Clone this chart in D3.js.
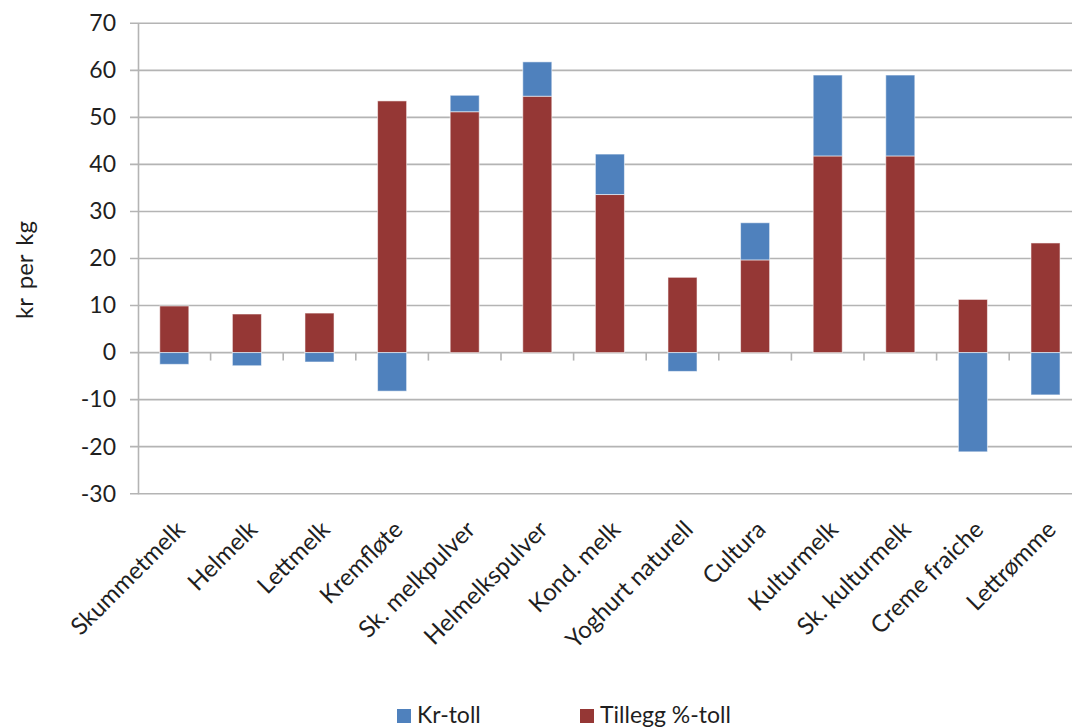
<!DOCTYPE html>
<html><head><meta charset="utf-8">
<script src="https://cdn.jsdelivr.net/npm/d3@7/dist/d3.min.js"></script>
<style>
html,body{margin:0;padding:0;background:#fff;overflow:hidden}
svg{display:block;font-family:Lato,"Open Sans",sans-serif}
</style></head>
<body><svg id="c" width="1072" height="727"></svg>
<script>
const categories = ["Skummetmelk","Helmelk","Lettmelk","Kremfløte","Sk. melkpulver","Helmelkspulver","Kond. melk","Yoghurt naturell","Cultura","Kulturmelk","Sk. kulturmelk","Creme fraiche","Lettrømme"];
const krToll = [-2.5,-2.8,-2.0,-8.2,3.5,7.3,8.6,-4.0,7.9,17.2,17.2,-21.1,-9.0];
const tilleggToll = [9.9,8.2,8.4,53.5,51.2,54.5,33.6,16.0,19.7,41.8,41.8,11.3,23.3];
const yTicks = [-30,-20,-10,0,10,20,30,40,50,60,70];
const seriesNames = ["Kr-toll","Tillegg %-toll"];
const colors = {"Kr-toll":"#4F81BD","Tillegg %-toll":"#953735"};

const svg = d3.select("#c");
const left = 138, step = 72.6;
const x = d3.scaleBand().domain(categories).range([left, left + step*categories.length]).paddingInner(0.6).paddingOuter(0.3);
const y = d3.scaleLinear().domain([-30,70]).range([493.7, 23.3]);

const rows = categories.map((c,i)=>({cat:c,"Kr-toll":krToll[i],"Tillegg %-toll":tilleggToll[i]}));
const stack = d3.stack().keys(["Tillegg %-toll","Kr-toll"]).offset(d3.stackOffsetDiverging);
const stacked = stack(rows);

// gridlines
svg.append("g").selectAll("line").data(yTicks).join("line")
  .attr("x1", left-8).attr("x2", 1080)
  .attr("y1", d=>y(d)).attr("y2", d=>y(d))
  .attr("stroke","#b4b4b4").attr("stroke-width",1.6);

// y axis
const yAxis = d3.axisLeft(y).tickValues(yTicks).tickSize(0).tickPadding(22).tickFormat(d=>String(d));
const gy = svg.append("g").attr("transform",`translate(${left},0)`).call(yAxis);
gy.select(".domain").attr("stroke","#b4b4b4").attr("stroke-width",1.6);
gy.selectAll("text").attr("font-size",23).attr("fill","#1f1f1f").attr("font-family","Lato");

// x ticks at category boundaries
const bounds = d3.range(categories.length+1).map(i=>x.range()[0]+i*x.step());
svg.append("g").selectAll("line").data(bounds.slice(1)).join("line")
  .attr("x1",d=>d).attr("x2",d=>d).attr("y1",y(0)).attr("y2",y(0)+8)
  .attr("stroke","#b4b4b4").attr("stroke-width",1.6);

// bars
svg.append("g").selectAll("g").data(stacked).join("g")
  .attr("fill", s=>colors[s.key])
  .selectAll("rect").data(d=>d).join("rect")
  .attr("x", d=>x(d.data.cat))
  .attr("width", x.bandwidth())
  .attr("y", d=>y(Math.max(d[0],d[1])))
  .attr("height", d=>Math.abs(y(d[0])-y(d[1])))
  .attr("stroke","rgba(255,255,255,0.55)").attr("stroke-width",1);

// category labels
svg.append("g").selectAll("text").data(categories).join("text")
  .attr("transform", d=>`translate(${x(d)+x.bandwidth()/2+12},531) rotate(-45)`)
  .attr("text-anchor","end")
  .attr("font-size",24).attr("fill","#1f1f1f")
  .text(d=>d);

// y title
svg.append("text").attr("transform","translate(33,270) rotate(-90)")
  .attr("text-anchor","middle").attr("font-size",24).attr("fill","#1f1f1f")
  .attr("word-spacing",3)
  .text("kr per kg");

// legend
const legX = [397, 580];
const lg = svg.append("g").selectAll("g").data(seriesNames).join("g")
  .attr("transform",(d,i)=>`translate(${legX[i]},709)`);
lg.append("rect").attr("width",14).attr("height",14).attr("fill",d=>colors[d]);
lg.append("text").attr("x",20).attr("y",14).attr("font-size",23).attr("fill","#1f1f1f").text(d=>d);
</script></body></html>
